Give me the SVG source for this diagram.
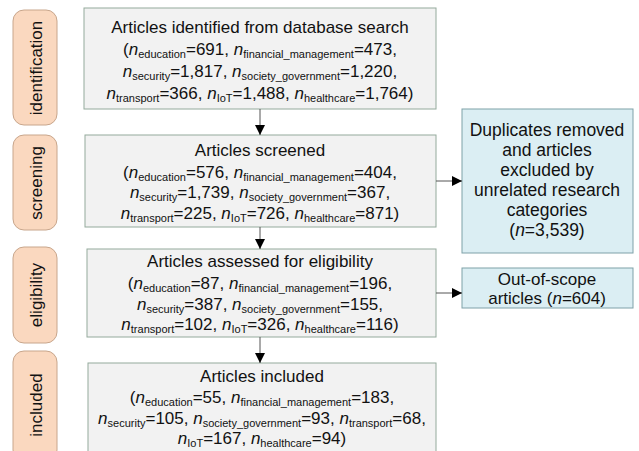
<svg xmlns="http://www.w3.org/2000/svg" width="639" height="451" viewBox="0 0 639 451">
  <defs>
    <marker id="arrow" viewBox="0 0 10 10" refX="10" refY="5" markerWidth="10" markerHeight="10" markerUnits="userSpaceOnUse" orient="auto">
      <path d="M0,0 L10,5 L0,10 Z" fill="#000"/>
    </marker>
  </defs>
  <style>
    text { font-family: "Liberation Sans", Arial, sans-serif; font-size: 17px; fill: #111; }
    .c { text-anchor: middle; }
    .stage rect { fill: #fad8bf; stroke: #c8a68c; stroke-width: 1; }
    .main rect { fill: #f2f2f2; stroke: #94aa9c; stroke-width: 1; }
    .side rect { fill: #dbeef3; stroke: #7fa1a8; stroke-width: 1; }
    .side text { font-size: 17.5px; }
    #out-of-scope text { font-size: 17px; }
    .i { font-style: italic; }
    .s { font-size: 11px; }
    .conn line { stroke: #555; stroke-width: 1; marker-end: url(#arrow); }
  </style>

  <!-- stage labels -->
  <g id="stage-identification" class="stage">
    <rect x="13" y="10" width="44" height="115" rx="11"/>
    <text class="c" transform="translate(42,68) rotate(-90)">identification</text>
  </g>
  <g id="stage-screening" class="stage">
    <rect x="13" y="135" width="44" height="95" rx="11"/>
    <text class="c" transform="translate(42,183) rotate(-90)">screening</text>
  </g>
  <g id="stage-eligibility" class="stage">
    <rect x="13" y="247" width="44" height="96" rx="11"/>
    <text class="c" transform="translate(42,295) rotate(-90)">eligibility</text>
  </g>
  <g id="stage-included" class="stage">
    <rect x="13" y="351" width="44" height="110" rx="11"/>
    <text class="c" transform="translate(42,405) rotate(-90)">included</text>
  </g>

  <!-- main flow -->
  <g id="identified" class="main">
    <rect x="84" y="8" width="352" height="101"/>
    <text class="c" x="260" y="33">Articles identified from database search</text>
    <text class="c" x="260" y="55">(<tspan class="i">n</tspan><tspan class="s" dy="3">education</tspan><tspan dy="-3">=691, </tspan><tspan class="i">n</tspan><tspan class="s" dy="3">financial_management</tspan><tspan dy="-3">=473,</tspan></text>
    <text class="c" x="260" y="77"><tspan class="i">n</tspan><tspan class="s" dy="3">security</tspan><tspan dy="-3">=1,817, </tspan><tspan class="i">n</tspan><tspan class="s" dy="3">society_government</tspan><tspan dy="-3">=1,220,</tspan></text>
    <text class="c" x="260" y="99"><tspan class="i">n</tspan><tspan class="s" dy="3">transport</tspan><tspan dy="-3">=366, </tspan><tspan class="i">n</tspan><tspan class="s" dy="3">IoT</tspan><tspan dy="-3">=1,488, </tspan><tspan class="i">n</tspan><tspan class="s" dy="3">healthcare</tspan><tspan dy="-3">=1,764)</tspan></text>
  </g>

  <g id="screened" class="main">
    <rect x="85" y="135" width="351" height="92"/>
    <text class="c" x="260" y="156">Articles screened</text>
    <text class="c" x="260" y="178">(<tspan class="i">n</tspan><tspan class="s" dy="3">education</tspan><tspan dy="-3">=576, </tspan><tspan class="i">n</tspan><tspan class="s" dy="3">financial_management</tspan><tspan dy="-3">=404,</tspan></text>
    <text class="c" x="260" y="198"><tspan class="i">n</tspan><tspan class="s" dy="3">security</tspan><tspan dy="-3">=1,739, </tspan><tspan class="i">n</tspan><tspan class="s" dy="3">society_government</tspan><tspan dy="-3">=367,</tspan></text>
    <text class="c" x="260" y="219"><tspan class="i">n</tspan><tspan class="s" dy="3">transport</tspan><tspan dy="-3">=225, </tspan><tspan class="i">n</tspan><tspan class="s" dy="3">IoT</tspan><tspan dy="-3">=726, </tspan><tspan class="i">n</tspan><tspan class="s" dy="3">healthcare</tspan><tspan dy="-3">=871)</tspan></text>
  </g>

  <g id="eligibility" class="main">
    <rect x="87" y="249" width="349" height="88"/>
    <text class="c" x="260" y="267">Articles assessed for eligibility</text>
    <text class="c" x="260" y="289">(<tspan class="i">n</tspan><tspan class="s" dy="3">education</tspan><tspan dy="-3">=87, </tspan><tspan class="i">n</tspan><tspan class="s" dy="3">financial_management</tspan><tspan dy="-3">=196,</tspan></text>
    <text class="c" x="260" y="310"><tspan class="i">n</tspan><tspan class="s" dy="3">security</tspan><tspan dy="-3">=387, </tspan><tspan class="i">n</tspan><tspan class="s" dy="3">society_government</tspan><tspan dy="-3">=155,</tspan></text>
    <text class="c" x="260" y="330"><tspan class="i">n</tspan><tspan class="s" dy="3">transport</tspan><tspan dy="-3">=102, </tspan><tspan class="i">n</tspan><tspan class="s" dy="3">IoT</tspan><tspan dy="-3">=326, </tspan><tspan class="i">n</tspan><tspan class="s" dy="3">healthcare</tspan><tspan dy="-3">=116)</tspan></text>
  </g>

  <g id="included" class="main">
    <rect x="88" y="363" width="348" height="100"/>
    <text class="c" x="262" y="382">Articles included</text>
    <text class="c" x="262" y="403">(<tspan class="i">n</tspan><tspan class="s" dy="3">education</tspan><tspan dy="-3">=55, </tspan><tspan class="i">n</tspan><tspan class="s" dy="3">financial_management</tspan><tspan dy="-3">=183,</tspan></text>
    <text class="c" x="262" y="424"><tspan class="i">n</tspan><tspan class="s" dy="3">security</tspan><tspan dy="-3">=105, </tspan><tspan class="i">n</tspan><tspan class="s" dy="3">society_government</tspan><tspan dy="-3">=93, </tspan><tspan class="i">n</tspan><tspan class="s" dy="3">transport</tspan><tspan dy="-3">=68,</tspan></text>
    <text class="c" x="262" y="444"><tspan class="i">n</tspan><tspan class="s" dy="3">IoT</tspan><tspan dy="-3">=167, </tspan><tspan class="i">n</tspan><tspan class="s" dy="3">healthcare</tspan><tspan dy="-3">=94)</tspan></text>
  </g>

  <!-- exclusions -->
  <g id="duplicates" class="side">
    <rect x="462" y="109" width="171" height="144"/>
    <text class="c" x="547" y="136">Duplicates removed</text>
    <text class="c" x="547" y="156">and articles</text>
    <text class="c" x="547" y="176">excluded by</text>
    <text class="c" x="547" y="196">unrelated research</text>
    <text class="c" x="547" y="216">categories</text>
    <text class="c" x="547" y="236">(<tspan class="i">n</tspan>=3,539)</text>
  </g>
  <g id="out-of-scope" class="side">
    <rect x="462" y="268" width="171" height="40"/>
    <text class="c" x="547" y="284.5">Out-of-scope</text>
    <text class="c" x="547" y="304">articles (<tspan class="i">n</tspan>=604)</text>
  </g>

  <!-- connectors -->
  <g id="connectors" class="conn">
    <line x1="260" y1="109" x2="260" y2="135"/>
    <line x1="260" y1="227" x2="260" y2="249"/>
    <line x1="260" y1="337" x2="260" y2="363"/>
    <line x1="436" y1="181" x2="462" y2="181"/>
    <line x1="436" y1="293" x2="462" y2="293"/>
  </g>
</svg>
